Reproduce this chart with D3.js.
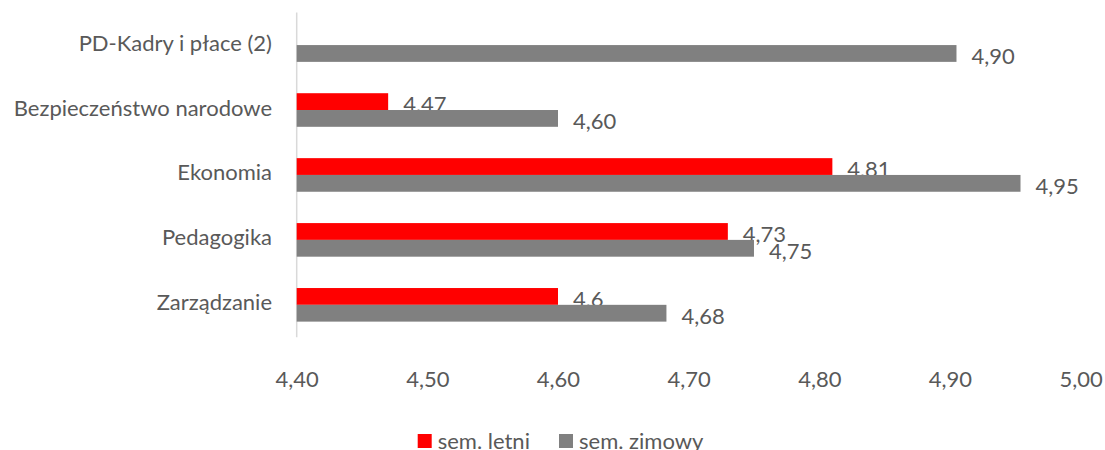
<!DOCTYPE html>
<html><head><meta charset="utf-8">
<script src="https://cdn.jsdelivr.net/npm/d3@7"></script>
<style>
body{margin:0;background:#fff;}
text{font-family:Lato, "Open Sans", sans-serif;fill:#595959;}
</style></head>
<body><svg id="c" width="1105" height="450"></svg>
<script>
const categories = ["PD-Kadry i płace (2)", "Bezpieczeństwo narodowe", "Ekonomia", "Pedagogika", "Zarządzanie"];
const letniValues = [null, 4.47, 4.81, 4.73, 4.6];
const zimowyValues = [4.905, 4.60, 4.954, 4.75, 4.683];
const letniLabels = [null, "4,47", "4,81", "4,73", "4,6"];
const zimowyLabels = ["4,90", "4,60", "4,95", "4,75", "4,68"];
const tickValues = [4.4, 4.5, 4.6, 4.7, 4.8, 4.9, 5.0];
const tickLabels = ["4,40", "4,50", "4,60", "4,70", "4,80", "4,90", "5,00"];
const seriesNames = ["sem. letni", "sem. zimowy"];
const colors = ["#FF0000", "#808080"];

(function(){
const svg = d3.select("#c");
const pLeft = 296.7, pRight = 1080.6, pTop = 12.6, pBottom = 337.3;
const fs = 22;
const x = d3.scaleLinear().domain([4.4, 5.0]).range([pLeft, pRight]);
const y = d3.scaleBand().domain(categories).range([pTop, pBottom]);
const barH = 16.8;

svg.append("line").attr("x1", pLeft).attr("x2", pLeft).attr("y1", pTop).attr("y2", pBottom)
  .attr("stroke", "#D9D9D9").attr("stroke-width", 1.5);

const rows = categories.map((c, i) => ({c, i}));
const series = [
  {vals: letniValues, labels: letniLabels, off: -barH, color: colors[0]},
  {vals: zimowyValues, labels: zimowyLabels, off: 0, color: colors[1]}
];
series.forEach(s => {
  const d = rows.filter(r => s.vals[r.i] != null);
  svg.append("g").selectAll("rect").data(d).join("rect")
    .attr("x", pLeft)
    .attr("y", r => y(r.c) + y.bandwidth()/2 + s.off)
    .attr("width", r => x(s.vals[r.i]) - pLeft)
    .attr("height", barH)
    .attr("fill", s.color);
  svg.append("g").selectAll("text").data(d).join("text")
    .attr("x", r => x(s.vals[r.i]) + 15)
    .attr("y", r => y(r.c) + y.bandwidth()/2 + s.off + barH/2 + 2)
    .attr("dominant-baseline", "central")
    .attr("font-size", fs)
    .text(r => s.labels[r.i]);
});

svg.append("g").selectAll("text").data(categories).join("text")
  .attr("x", 272).attr("y", c => y(c) + y.bandwidth()/2 - 3)
  .attr("text-anchor", "end").attr("dominant-baseline", "central")
  .attr("font-size", fs).text(c => c);

const xAxis = d3.axisBottom(x).tickValues(tickValues).tickSize(0)
  .tickFormat((d, i) => tickLabels[i]);
const gx = svg.append("g").attr("transform", `translate(0,${pBottom})`).call(xAxis);
gx.select(".domain").remove();
gx.selectAll("text").attr("font-size", fs).attr("dy", null).attr("y", 41)
  .attr("dominant-baseline", "central").attr("font-family", "Lato, 'Open Sans', sans-serif").attr("fill", "#595959");

const lg = svg.append("g");
const lx = [417.7, 559];
seriesNames.forEach((n, i) => {
  lg.append("rect").attr("x", lx[i]).attr("y", 434).attr("width", 14).attr("height", 14).attr("fill", colors[i]);
  lg.append("text").attr("x", lx[i] + 20).attr("y", 440).attr("dominant-baseline", "central")
    .attr("font-size", fs).text(n);
});
})();
</script></body></html>
